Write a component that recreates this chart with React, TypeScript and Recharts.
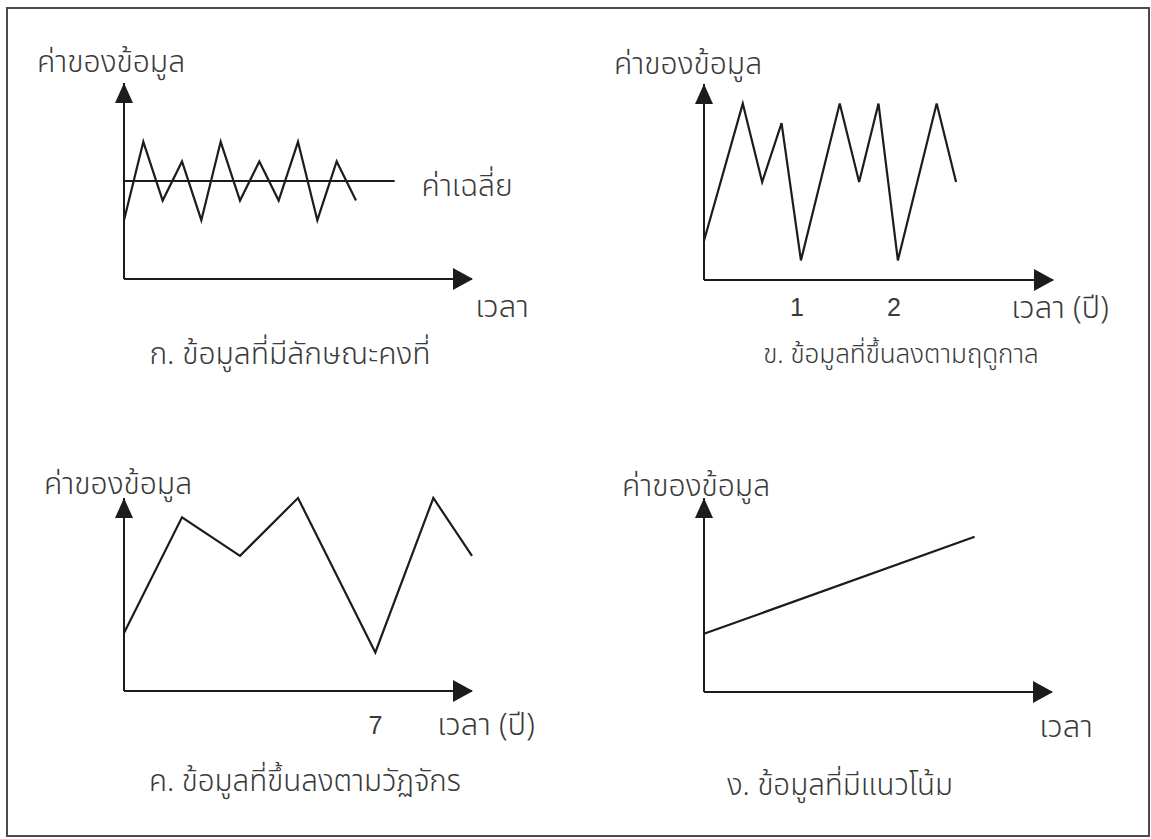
import React from 'react';
import { LineChart, Line, XAxis, YAxis, ReferenceLine, ReferenceDot } from 'recharts';

// shared scale of every small plot
const X_MAX = 18;
const Y_MAX = 10;

// ก. ข้อมูลที่มีลักษณะคงที่
const stationaryT = [0, 1, 2, 3, 4, 5, 6, 7, 8, 9, 10, 11, 12];
const stationaryV = [3, 7, 4, 6, 3, 7, 4, 6, 4, 7, 3, 6, 4];
const stationaryMean = 5;
const stationaryMeanEnd = 14;

// ข. ข้อมูลที่ขึ้นลงตามฤดูกาล
const seasonalT = [0, 2, 3, 4, 5, 7, 8, 9, 10, 12, 13];
const seasonalV = [2, 9, 5, 8, 1, 9, 5, 9, 1, 9, 5];
const seasonalTicks = [5, 10];
const seasonalTickLabels = ['1', '2'];

// ค. ข้อมูลที่ขึ้นลงตามวัฏจักร
const cyclicalT = [0, 3, 6, 9, 13, 16, 18];
const cyclicalV = [3, 9, 7, 10, 2, 10, 7];
const cyclicalTicks = [13];
const cyclicalTickLabels = ['7'];

// ง. ข้อมูลที่มีแนวโน้ม
const trendT = [0, 14];
const trendV = [3, 8];

const INK = '#1c1c1c';
const TEXT = '#3a3a3a';
const FONT = '"Noto Sans Thai", "Noto Sans", "Liberation Sans", sans-serif';

const toRows = (t: number[], v: number[]) => t.map((x, i) => ({ t: x, v: v[i] }));

const ArrowUp = (props: any) => {
  const { cx, cy } = props;
  return <polygon points={`${cx},${cy} ${cx - 9},${cy + 20} ${cx + 9},${cy + 20}`} fill={INK} />;
};

const ArrowRight = (props: any) => {
  const { cx, cy } = props;
  return <polygon points={`${cx + 1},${cy} ${cx - 19},${cy - 11} ${cx - 19},${cy + 11}`} fill={INK} />;
};

type PanelProps = {
  plotLeft: number;
  plotTop: number;
  plotW: number;
  plotH: number;
  t: number[];
  v: number[];
  ticks?: number[];
  tickLabels?: string[];
  tickDx?: number;
  tickDy?: number;
  mean?: number;
  meanEnd?: number;
};

const PAD = 20;
const X_AXIS_H = 50;

const Panel: React.FC<PanelProps> = ({ plotLeft, plotTop, plotW, plotH, t, v, ticks, tickLabels, tickDx = 0, tickDy = 28, mean, meanEnd }) => {
  const rows = toRows(t, v);
  const renderTick = (p: any) => {
    const idx = (ticks || []).indexOf(p.payload.value);
    return (
      <text x={p.x + tickDx} y={p.y + tickDy} textAnchor="middle" dominantBaseline="central"
        fill={TEXT} fontSize={25} fontFamily='"Liberation Sans", Arial, sans-serif'>
        {tickLabels ? tickLabels[idx] : p.payload.value}
      </text>
    );
  };
  return (
    <div style={{ position: 'absolute', left: plotLeft - PAD, top: plotTop - PAD }}>
      <LineChart width={plotW + PAD * 2} height={plotH + PAD * 2 + X_AXIS_H} data={rows}
        margin={{ top: PAD, right: PAD, bottom: PAD, left: PAD }}>
        <XAxis type="number" dataKey="t" domain={[0, X_MAX]} ticks={ticks} interval={0}
          height={X_AXIS_H} tickLine={false} tickSize={0} tickMargin={0}
          axisLine={{ stroke: INK, strokeWidth: 2 }} tick={ticks ? renderTick : false} />
        <YAxis type="number" domain={[0, Y_MAX]} hide />
        {/* vertical axis */}
        <ReferenceLine segment={[{ x: 0, y: 0 }, { x: 0, y: Y_MAX }]} stroke={INK} strokeWidth={2} />
        {mean !== undefined && (
          <ReferenceLine segment={[{ x: 0, y: mean }, { x: meanEnd, y: mean }]}
            stroke={INK} strokeWidth={2} />
        )}
        <Line type="linear" dataKey="v" stroke={INK} strokeWidth={2.2} dot={false}
          isAnimationActive={false} strokeLinejoin="miter" />
        <ReferenceDot x={0} y={Y_MAX} r={1} shape={ArrowUp} />
        <ReferenceDot x={X_MAX} y={0} r={1} shape={ArrowRight} />
      </LineChart>
    </div>
  );
};

const Label: React.FC<{ x: number; y: number; size: number; children: React.ReactNode }> = ({ x, y, size, children }) => (
  <div style={{
    position: 'absolute', left: x, top: y, transform: 'translate(-50%, -50%)',
    whiteSpace: 'nowrap', fontSize: size, fontFamily: FONT, fontWeight: 300, color: TEXT, lineHeight: 1,
  }}>
    {children}
  </div>
);

export default function App() {
  return (
    <div style={{ position: 'absolute', left: 0, top: 0, width: 1151, height: 839, overflow: 'hidden', background: '#fff' }}>
      <div style={{ position: 'absolute', left: 6, top: 7, width: 1144, height: 830, border: '2px solid #4a4a4a', boxSizing: 'border-box' }} />

      <Panel plotLeft={124} plotTop={83} plotW={348} plotH={196}
        t={stationaryT} v={stationaryV} mean={stationaryMean} meanEnd={stationaryMeanEnd} />
      <Panel plotLeft={704} plotTop={84} plotW={349} plotH={196}
        t={seasonalT} v={seasonalV} ticks={seasonalTicks} tickLabels={seasonalTickLabels} tickDx={-4} tickDy={27} />
      <Panel plotLeft={124} plotTop={498} plotW={348} plotH={193}
        t={cyclicalT} v={cyclicalV} ticks={cyclicalTicks} tickLabels={cyclicalTickLabels} tickDy={34} />
      <Panel plotLeft={704} plotTop={498} plotW={348} plotH={194} t={trendT} v={trendV} />

      <Label x={111} y={63} size={30}>ค่าของข้อมูล</Label>
      <Label x={467} y={187} size={30}>ค่าเฉลี่ย</Label>
      <Label x={502} y={307} size={31}>เวลา</Label>
      <Label x={290} y={355} size={30}>ก. ข้อมูลที่มีลักษณะคงที่</Label>

      <Label x={688} y={65} size={30}>ค่าของข้อมูล</Label>
      <Label x={1060} y={308} size={31}>เวลา (ปี)</Label>
      <Label x={901} y={355} size={26}>ข. ข้อมูลที่ขึ้นลงตามฤดูกาล</Label>

      <Label x={118} y={485} size={30}>ค่าของข้อมูล</Label>
      <Label x={486} y={725} size={31}>เวลา (ปี)</Label>
      <Label x={305} y={783} size={29.5}>ค. ข้อมูลที่ขึ้นลงตามวัฏจักร</Label>

      <Label x={696} y={487} size={30}>ค่าของข้อมูล</Label>
      <Label x={1066} y={727} size={31}>เวลา</Label>
      <Label x={840} y={787} size={29.5}>ง. ข้อมูลที่มีแนวโน้ม</Label>
    </div>
  );
}
